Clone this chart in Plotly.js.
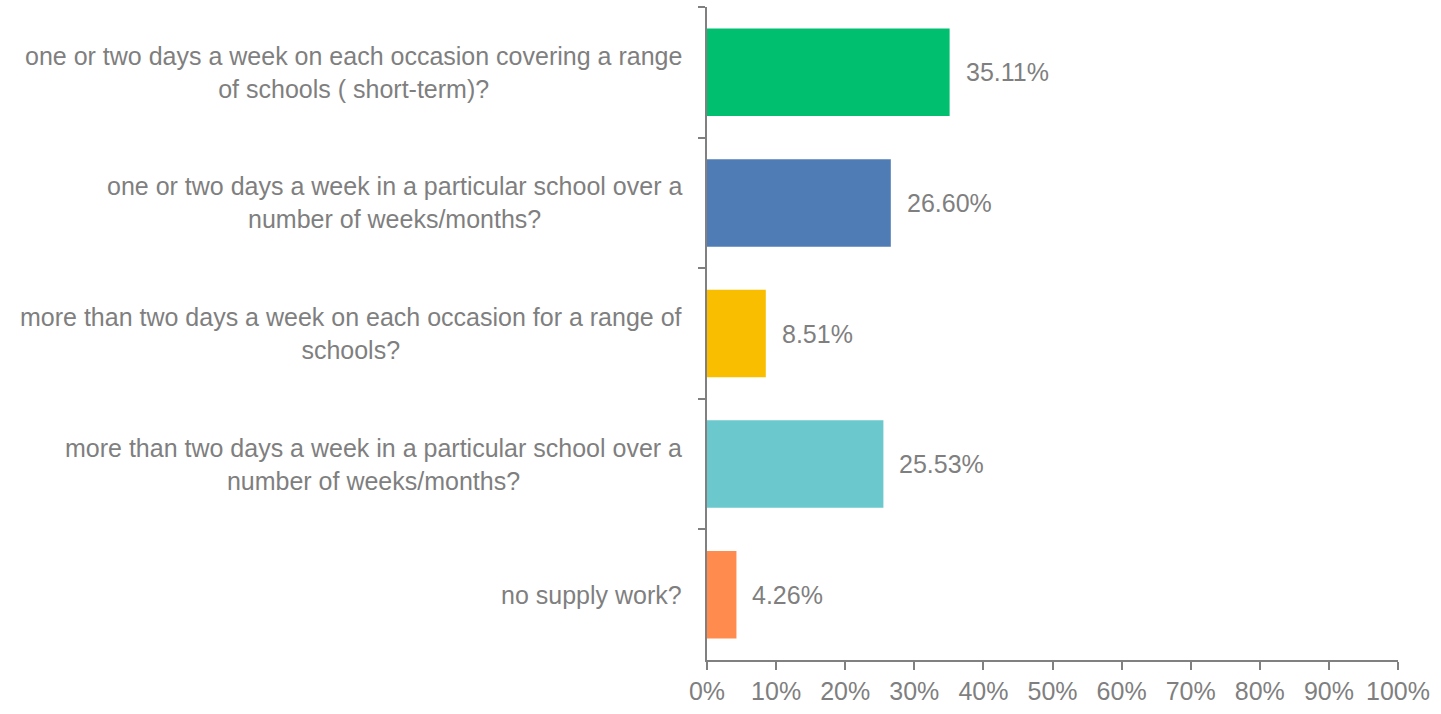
<!DOCTYPE html>
<html>
<head>
<meta charset="utf-8">
<script src="https://cdn.plot.ly/plotly-3.0.1.min.js"></script>
<style>html,body{margin:0;padding:0;background:#fff;}#chart{width:1441px;height:714px;}</style>
</head>
<body>
<div id="chart"></div>
<script>
const categories = [
  "one or two days a week on each occasion covering a range<br>of schools ( short-term)?",
  "one or two days a week in a particular school over a<br>number of weeks/months?",
  "more than two days a week on each occasion for a range of<br>schools?",
  "more than two days a week in a particular school over a<br>number of weeks/months?",
  "no supply work?"
];
const values = [0.3511, 0.2660, 0.0851, 0.2553, 0.0426];
const valueLabels = ["35.11%", "26.60%", "8.51%", "25.53%", "4.26%"];
const colors = ["#00BF6F", "#507CB6", "#F9BE00", "#6BC8CD", "#FF8B4F"];
const tickVals = [0, 0.1, 0.2, 0.3, 0.4, 0.5, 0.6, 0.7, 0.8, 0.9, 1.0];
const tickText = ["0%", "10%", "20%", "30%", "40%", "50%", "60%", "70%", "80%", "90%", "100%"];

const font = {family: "Liberation Sans, Arial, sans-serif", size: 25, color: "#7f7f7f"};

const trace = {
  type: "bar",
  orientation: "h",
  x: values,
  y: categories,
  marker: {color: colors},
  width: 0.67,
  hoverinfo: "none"
};

const valueAnnotations = values.map((v, i) => ({
  x: v, y: categories[i], xref: "x", yref: "y",
  text: valueLabels[i], showarrow: false,
  xanchor: "left", xshift: 14, font: font
}));

const categoryAnnotations = categories.map((c) => ({
  x: 0, y: c, xref: "paper", yref: "y",
  text: c, showarrow: false, align: "center",
  xanchor: "right", xshift: -23, font: font
}));

const layout = {
  width: 1441, height: 714,
  margin: {l: 707, r: 43, t: 7, b: 54},
  paper_bgcolor: "#ffffff", plot_bgcolor: "#ffffff",
  showlegend: false,
  font: font,
  xaxis: {
    range: [0, 1], tickvals: tickVals, ticktext: tickText,
    showgrid: false, zeroline: false, showline: true,
    linecolor: "#808080", linewidth: 2,
    ticks: "outside", ticklen: 8, tickwidth: 2, tickcolor: "#808080",
    tickfont: font, fixedrange: true
  },
  yaxis: {
    type: "category", autorange: "reversed",
    showgrid: false, zeroline: false, showline: true,
    linecolor: "#808080", linewidth: 2,
    ticks: "outside", ticklen: 7, tickwidth: 2, tickcolor: "#808080",
    tickson: "boundaries", showticklabels: false,
    fixedrange: true
  },
  annotations: categoryAnnotations.concat(valueAnnotations)
};

Plotly.newPlot("chart", [trace], layout, {displayModeBar: false, staticPlot: true});
</script>
</body>
</html>
